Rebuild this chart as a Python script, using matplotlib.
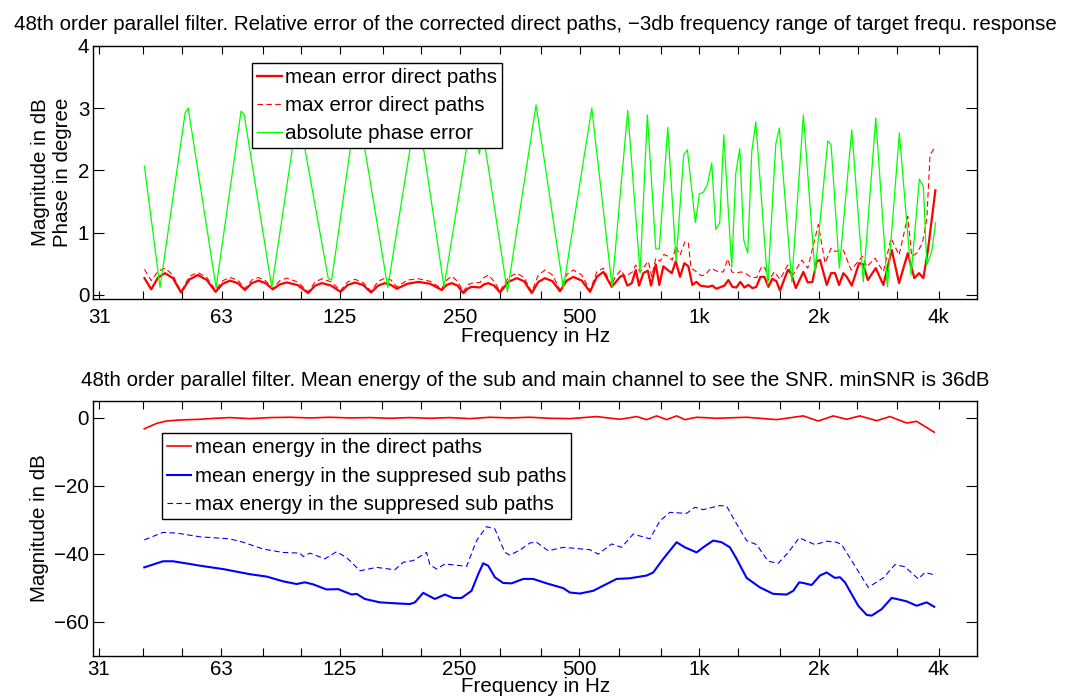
import matplotlib
matplotlib.use("Agg")
import matplotlib.pyplot as plt

plt.rcParams['font.family'] = ['Liberation Sans', 'DejaVu Sans']
plt.rcParams['font.size'] = 14.8

# ---- top panel: relative error of the corrected direct paths ----
phase_freq = [40.3, 44.1, 51.0, 51.9, 61.0, 70.5, 71.8, 84.2, 98.0, 116.8,
              119.1, 137.9, 164.8, 195.2, 228.2, 268.4, 280.0, 286.0, 329.3, 388.8,
              455.3, 536.7, 603.6, 661.0, 709.8, 740.5, 777.4, 793.7, 833.3, 874.3,
              914.1, 933.4, 977.6, 1000.5, 1023.9, 1048.0, 1074.9, 1100.2, 1125.9, 1152.3,
              1206.9, 1235.3, 1264.2, 1293.7, 1324.0, 1355.1, 1386.9, 1486.6, 1557.1, 1589.8,
              1708.1, 1826.8, 1954.8, 2104.0, 2144.5, 2250.0, 2417.5, 2585.4, 2777.9, 2970.8,
              3184.4, 3407.6, 3575.2, 3659.0, 3732.0, 3841.3, 3927.0]
phase_err = [2.06, 0.12, 2.92, 3.00, 0.12, 2.95, 2.89, 0.12, 2.96, 0.26,
             0.24, 3.10, 0.12, 3.05, 0.13, 2.90, 2.26, 2.60, 0.05, 3.05,
             0.11, 3.00, 0.13, 2.96, 0.35, 2.89, 0.74, 0.74, 2.69, 0.54,
             2.25, 2.33, 1.16, 1.62, 1.65, 1.77, 2.12, 1.05, 1.16, 2.57,
             0.44, 1.95, 2.35, 0.88, 0.67, 2.30, 2.78, 0.16, 2.42, 2.68,
             0.21, 2.89, 0.35, 2.47, 2.41, 0.43, 2.65, 0.21, 2.84, 0.13,
             2.60, 0.32, 1.86, 1.74, 0.48, 0.70, 1.16]

# low frequency part shared by mean and max error
low_freq = [40.3, 41.9, 43.6, 45.4, 47.5, 49.8, 52.3, 54.9, 57.8, 60.8,
            63.4, 66.1, 69.1, 72.1, 75.0, 77.9, 81.2, 84.7, 88.2, 91.8,
            97.7, 104.0, 108.2, 112.6, 118.7, 125.4, 130.7, 136.3, 142.8, 149.6,
            155.8, 162.2, 167.9, 173.6, 184.8, 196.7, 210.5, 225.2, 231.8, 238.6,
            246.8, 255.2, 261.5, 267.9, 281.1, 287.7, 294.9, 304.8, 315.6, 331.2,
            347.7, 362.7, 379.2, 394.0, 409.5, 427.7, 446.7, 464.4, 482.4, 506.5,
            531.4, 552.5, 573.9, 602.5]
mean_err_low = [0.27, 0.09, 0.28, 0.35, 0.27, 0.04, 0.25, 0.32, 0.24, 0.05,
                0.18, 0.23, 0.19, 0.08, 0.19, 0.23, 0.19, 0.09, 0.17, 0.20,
                0.16, 0.03, 0.15, 0.19, 0.15, 0.05, 0.16, 0.20, 0.16, 0.04,
                0.15, 0.19, 0.16, 0.10, 0.18, 0.21, 0.18, 0.08, 0.16, 0.19,
                0.15, 0.03, 0.10, 0.13, 0.12, 0.17, 0.19, 0.15, 0.04, 0.21,
                0.27, 0.22, 0.03, 0.21, 0.27, 0.22, 0.06, 0.23, 0.29, 0.23,
                0.05, 0.29, 0.37, 0.13]
max_err_low = [0.41, 0.23, 0.38, 0.43, 0.32, 0.05, 0.30, 0.36, 0.28, 0.08,
               0.23, 0.28, 0.24, 0.10, 0.24, 0.28, 0.23, 0.10, 0.23, 0.27,
               0.21, 0.05, 0.21, 0.26, 0.21, 0.07, 0.21, 0.25, 0.20, 0.06,
               0.22, 0.27, 0.24, 0.13, 0.24, 0.26, 0.22, 0.10, 0.24, 0.30,
               0.22, 0.05, 0.16, 0.19, 0.20, 0.28, 0.32, 0.22, 0.06, 0.28,
               0.35, 0.28, 0.05, 0.32, 0.40, 0.32, 0.08, 0.33, 0.40, 0.32,
               0.07, 0.37, 0.43, 0.15]

mean_freq_high = [632.2, 644.4, 659.5, 676.5, 692.4, 705.7, 723.5, 742.2, 756.5, 777.4,
                  793.7, 812.3, 833.3, 852.8, 872.8, 894.7, 917.3, 938.8, 960.8, 983.2,
                  1006.3, 1054.0, 1078.7, 1103.9, 1156.3, 1183.4, 1211.1, 1239.4, 1268.5, 1298.2,
                  1328.6, 1359.8, 1391.6, 1424.3, 1457.6, 1491.8, 1526.7, 1562.4, 1596.3, 1669.1,
                  1701.2, 1748.2, 1826.8, 1873.9, 1924.4, 1974.2, 2012.2, 2091.9, 2144.5, 2194.7,
                  2246.1, 2302.8, 2348.7, 2417.5, 2521.8, 2585.4, 2652.2, 2777.9, 2902.7, 3047.3,
                  3178.9, 3343.1, 3473.3, 3569.1, 3659.0, 3753.5, 3922.4]
mean_err_high = [0.29, 0.32, 0.15, 0.19, 0.40, 0.15, 0.35, 0.39, 0.15, 0.49,
                 0.16, 0.46, 0.40, 0.35, 0.54, 0.29, 0.51, 0.46, 0.16, 0.21,
                 0.15, 0.13, 0.15, 0.10, 0.15, 0.24, 0.13, 0.12, 0.21, 0.12,
                 0.16, 0.11, 0.13, 0.29, 0.29, 0.13, 0.26, 0.22, 0.07, 0.40,
                 0.35, 0.11, 0.37, 0.20, 0.21, 0.54, 0.56, 0.16, 0.35, 0.35,
                 0.16, 0.35, 0.29, 0.15, 0.51, 0.49, 0.24, 0.43, 0.16, 0.72,
                 0.19, 0.67, 0.27, 0.35, 0.27, 0.70, 1.68]

max_freq_high = [614.2, 635.9, 650.8, 678.9, 692.4, 709.8, 744.7, 759.5, 777.4, 796.9,
                 814.2, 836.1, 855.7, 872.8, 894.7, 921.0, 938.8, 953.6, 975.9, 1010.4,
                 1034.1, 1070.6, 1116.8, 1149.7, 1179.3, 1206.9, 1235.3, 1273.7, 1303.5, 1355.1,
                 1394.9, 1435.9, 1463.6, 1497.9, 1544.5, 1596.3, 1669.1, 1708.1, 1809.9, 1873.9,
                 1992.4, 2071.3, 2144.5, 2194.7, 2302.8, 2407.7, 2570.5, 2637.0, 2766.5, 2902.7,
                 3035.0, 3178.9, 3343.1, 3421.4, 3522.1, 3637.9, 3732.0, 3803.7, 3922.4]
max_err_high = [0.29, 0.40, 0.29, 0.37, 0.48, 0.37, 0.54, 0.30, 0.59, 0.54,
                0.65, 0.62, 0.56, 0.78, 0.64, 0.86, 0.83, 0.43, 0.39, 0.31,
                0.32, 0.43, 0.37, 0.37, 0.58, 0.37, 0.35, 0.37, 0.35, 0.28,
                0.28, 0.46, 0.43, 0.24, 0.37, 0.25, 0.48, 0.29, 0.56, 0.43,
                1.13, 0.51, 0.75, 0.70, 0.72, 0.40, 0.62, 0.45, 0.59, 0.37,
                0.91, 0.64, 1.26, 0.62, 0.67, 0.83, 1.21, 2.25, 2.38]

# ---- bottom panel: mean energy of sub and main channel ----
direct_freq = [40.3, 43.3, 45.8, 49.5, 55.6, 60.6, 66.1, 74.2, 83.4, 93.6,
               105.1, 118.0, 132.5, 148.7, 167.0, 187.5, 210.5, 236.3, 265.3, 297.9,
               334.4, 375.5, 421.6, 473.3, 552.5, 632.2, 696.4, 737.9, 781.9, 828.5,
               877.8, 921.0, 985.6, 1106.6, 1316.4, 1566.2, 1826.8, 1992.4, 2173.2, 2348.7,
               2536.5, 2794.0, 3017.5, 3323.9, 3522.1, 3899.6]
direct_energy = [-3.2, -1.6, -0.9, -0.6, -0.4, -0.1, 0.1, -0.2, 0.1, 0.2,
                 0.0, 0.2, 0.0, 0.1, -0.1, 0.1, -0.1, 0.1, -0.2, 0.2,
                 0.0, 0.2, -0.1, -0.2, 0.4, -0.4, 0.4, -0.5, 0.6, -0.5,
                 0.6, -0.5, 0.2, -0.1, 0.2, -0.5, 0.6, -0.9, 0.6, -0.4,
                 0.6, -0.8, 0.4, -1.5, -1.0, -4.2]

sub_mean_freq = [40.3, 44.9, 47.6, 52.5, 55.6, 63.6, 74.2, 81.8, 90.0, 97.3,
                 102.1, 107.1, 115.7, 123.8, 133.8, 137.7, 144.5, 157.6, 173.6, 187.5,
                 193.0, 202.5, 216.6, 229.6, 240.9, 252.9, 267.9, 278.4, 286.5, 294.9,
                 306.6, 321.7, 337.7, 361.2, 382.7, 413.6, 455.3, 473.3, 501.5, 541.7,
                 573.9, 620.3, 669.9, 737.9, 766.6, 812.3, 877.8, 921.0, 985.6, 1023.9,
                 1084.9, 1139.1, 1195.1, 1242.4, 1316.4, 1421.8, 1535.6, 1659.5, 1724.0, 1784.9,
                 1844.8, 1917.8, 2012.2, 2091.9, 2194.7, 2259.2, 2325.6, 2511.6, 2637.0, 2714.2,
                 2876.0, 3047.3, 3137.0, 3323.9, 3522.1, 3732.0, 3899.6]
sub_mean_energy = [-44.0, -42.2, -42.2, -43.0, -43.5, -44.5, -46.0, -46.7, -48.1, -48.9,
                   -48.4, -49.0, -50.5, -50.4, -52.0, -51.8, -53.3, -54.3, -54.6, -54.8,
                   -54.3, -51.5, -53.3, -52.0, -53.0, -53.0, -50.9, -46.0, -42.8, -43.5,
                   -46.9, -48.6, -48.7, -47.4, -47.4, -48.7, -50.1, -51.4, -51.7, -50.9,
                   -49.4, -47.4, -47.2, -46.4, -45.5, -41.5, -36.6, -38.1, -39.6, -38.1,
                   -36.1, -36.6, -38.1, -41.5, -47.1, -49.9, -51.8, -52.0, -50.9, -48.4,
                   -48.7, -49.2, -46.4, -45.5, -47.1, -46.9, -48.4, -55.3, -58.0, -58.2,
                   -56.3, -53.0, -53.3, -54.0, -55.3, -54.3, -55.6]

sub_max_freq = [40.3, 44.9, 48.6, 55.6, 66.1, 71.4, 80.2, 90.0, 99.2, 101.1,
                105.1, 114.6, 122.6, 130.0, 140.4, 154.6, 171.9, 180.3, 191.1, 206.5,
                210.5, 218.8, 229.6, 260.3, 275.8, 292.2, 306.6, 324.9, 334.4, 354.4,
                375.5, 390.3, 417.4, 455.3, 531.4, 557.6, 602.5, 638.5, 682.8, 752.1,
                796.9, 844.4, 930.2, 975.9, 1023.9, 1127.9, 1172.6, 1242.4, 1316.4, 1394.9,
                1491.8, 1580.6, 1674.8, 1784.9, 1954.8, 2091.9, 2216.5, 2281.5, 2417.5, 2661.3,
                2902.7, 3106.1, 3291.2, 3554.6, 3695.2, 3899.6]
sub_max_energy = [-35.9, -33.7, -33.9, -35.0, -35.6, -36.6, -38.6, -39.6, -39.8, -40.8,
                  -39.8, -41.5, -39.4, -41.1, -45.0, -44.0, -44.7, -42.5, -42.0, -39.6,
                  -43.2, -44.5, -43.0, -43.7, -36.1, -32.0, -32.7, -39.6, -40.4, -38.9,
                  -36.8, -36.6, -39.1, -38.1, -38.8, -40.1, -37.1, -38.1, -34.2, -35.6,
                  -30.3, -27.8, -28.1, -26.3, -27.0, -25.8, -26.0, -31.2, -36.1, -37.3,
                  -42.2, -42.8, -39.6, -35.3, -37.3, -36.3, -36.6, -37.3, -42.0, -49.9,
                  -47.1, -43.2, -43.8, -47.4, -45.5, -46.2]

tick_freqs = [31, 40, 50, 63, 80, 100, 125, 160, 200, 250, 315, 400, 500,
              630, 800, 1000, 1250, 1600, 2000, 2500, 3150, 4000]
tick_names = ['31', '', '', '63', '', '', '125', '', '', '250', '', '', '500',
              '', '', '1k', '', '', '2k', '', '', '4k']


def style_axis(ax, xpad, lpad):
    ax.set_xscale('log')
    ax.set_xlim(30, 5000)
    ax.set_xticks(tick_freqs)
    ax.set_xticklabels(tick_names)
    ax.minorticks_off()
    ax.tick_params(axis='both', direction='in', top=True, right=True,
                   width=0.8, labelsize=14.8)
    ax.tick_params(axis='x', length=6, pad=xpad)
    ax.tick_params(axis='y', length=8, pad=3)
    for sp in ax.spines.values():
        sp.set_linewidth(1.0)
    ax.set_xlabel('Frequency in Hz', labelpad=lpad)


def add_legend(ax, anchor):
    leg = ax.legend(loc='upper left', bbox_to_anchor=anchor, fontsize=14.8,
                    handlelength=1.2, handletextpad=0.15, labelspacing=0.45,
                    borderpad=0.25, borderaxespad=0, fancybox=False,
                    framealpha=1, edgecolor='black')
    leg.get_frame().set_linewidth(1.0)
    return leg


fig = plt.figure(figsize=(10.66, 7), dpi=100)

ax1 = fig.add_axes([0.0877, 0.5724, 0.8291, 0.3623])
ax1.plot(low_freq + mean_freq_high, mean_err_low + mean_err_high, color='#ff0000',
         lw=1.6, label='mean error direct paths')
ax1.plot(low_freq + max_freq_high, max_err_low + max_err_high, color='#ff0000',
         lw=0.8, ls=(0, (5, 3)), label='max error direct paths')
ax1.plot(phase_freq, phase_err, color='#00ff00', lw=0.9, label='absolute phase error')
style_axis(ax1, 6, 0)
ax1.set_ylim(-0.07, 4)
ax1.set_yticks([0, 1, 2, 3, 4])
ax1.set_ylabel('Magnitude in dB\nPhase in degree', labelpad=4)
ax1.set_title('48th order parallel filter. Relative error of the corrected direct paths, '
              '\u22123db frequency range of target frequ. response', fontsize=14.8, pad=11)
add_legend(ax1, (0.1797, 0.933))

ax2 = fig.add_axes([0.0875, 0.0633, 0.8292, 0.3639])
ax2.plot(direct_freq, direct_energy, color='#ff0000', lw=1.2,
         label='mean energy in the direct paths')
ax2.plot(sub_mean_freq, sub_mean_energy, color='#0000ff', lw=1.5,
         label='mean energy in the suppresed sub paths')
ax2.plot(sub_max_freq, sub_max_energy, color='#0000ff', lw=0.8, ls=(0, (5, 3)),
         label='max energy in the suppresed sub paths')
style_axis(ax2, 3, -1)
ax2.set_ylim(-70, 5)
ax2.set_yticks([-60, -40, -20, 0])
ax2.set_ylabel('Magnitude in dB', labelpad=4)
ax2.set_title('48th order parallel filter. Mean energy of the sub and main channel '
              'to see the SNR. minSNR is 36dB', fontsize=14.8, pad=11)
add_legend(ax2, (0.0774, 0.873))

fig.savefig('out.png', dpi=100)
